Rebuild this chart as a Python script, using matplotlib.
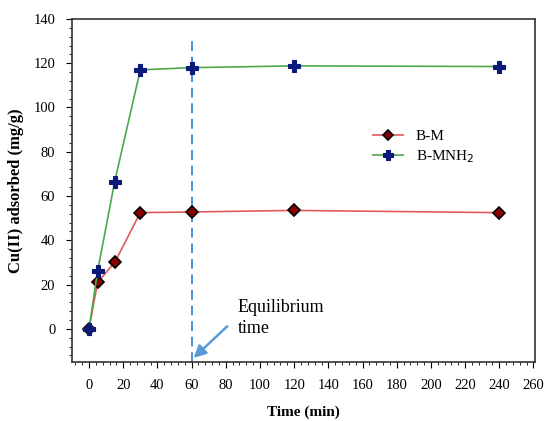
import matplotlib
matplotlib.use('Agg')
import matplotlib.pyplot as plt
from matplotlib.ticker import MultipleLocator

# data
time = [0, 5, 15, 30, 60, 120, 240]
bm = [0, 21, 30, 52.5, 52.8, 53.5, 52.5]
bmnh2 = [0, 26, 66.5, 117, 118, 118.8, 118.5]
equil_time = 60

plt.rcParams['font.family'] = ['Liberation Serif', 'DejaVu Serif']

fig = plt.figure(figsize=(5.45, 4.21), dpi=100)
ax = fig.add_axes([0.132, 0.140, 0.850, 0.815])

ax.plot(time, bm, color='#e05a5a', lw=1.2, marker='D', ms=6.5,
        mfc='#8b0000', mec='black', mew=1.2, label='B-M', zorder=3)
ax.plot(time, bmnh2, color='#4ea84a', lw=1.2, marker='P', ms=8,
        mfc='#0a1a7a', mec='#0a1a7a', mew=0.8, label='B-MNH$_2$', zorder=3)

# equilibrium line + arrow
ax.plot([equil_time, equil_time], [-15, 130.5], ls=(0, (5, 3)), color='#4a90d9', lw=1.4, zorder=2)
ax.annotate('', xy=(equil_time, -14), xytext=(82, 2),
            arrowprops=dict(arrowstyle='-|>', color='#5b9bd5', lw=1.8, mutation_scale=18))
ax.text(87, -2, 'Equilibrium\ntime', fontsize=13, va='baseline', ha='left', linespacing=1.3)

ax.set_xlim(-10, 261)
ax.set_ylim(-15, 140)
ax.xaxis.set_major_locator(MultipleLocator(20))
ax.xaxis.set_minor_locator(MultipleLocator(4))
ax.yaxis.set_major_locator(MultipleLocator(20))
ax.yaxis.set_minor_locator(MultipleLocator(4))
ax.tick_params(which='both', direction='out', top=False, right=False, labelsize=10.5)
ax.tick_params(which='major', length=4, pad=8)
ax.tick_params(which='minor', length=2.5)
for s in ax.spines.values():
    s.set_linewidth(1.2)
    s.set_color('#333333')

ax.set_xlabel('Time (min)', fontsize=11, fontweight='bold', labelpad=10)
ax.set_ylabel('Cu(II) adsorbed (mg/g)', fontsize=12, fontweight='bold', labelpad=7)

ax.legend(loc='upper left', bbox_to_anchor=(0.62, 0.718), frameon=False, fontsize=11,
          handlelength=2.0, labelspacing=0.35, markerscale=0.85)

fig.savefig('out.png', dpi=100)
